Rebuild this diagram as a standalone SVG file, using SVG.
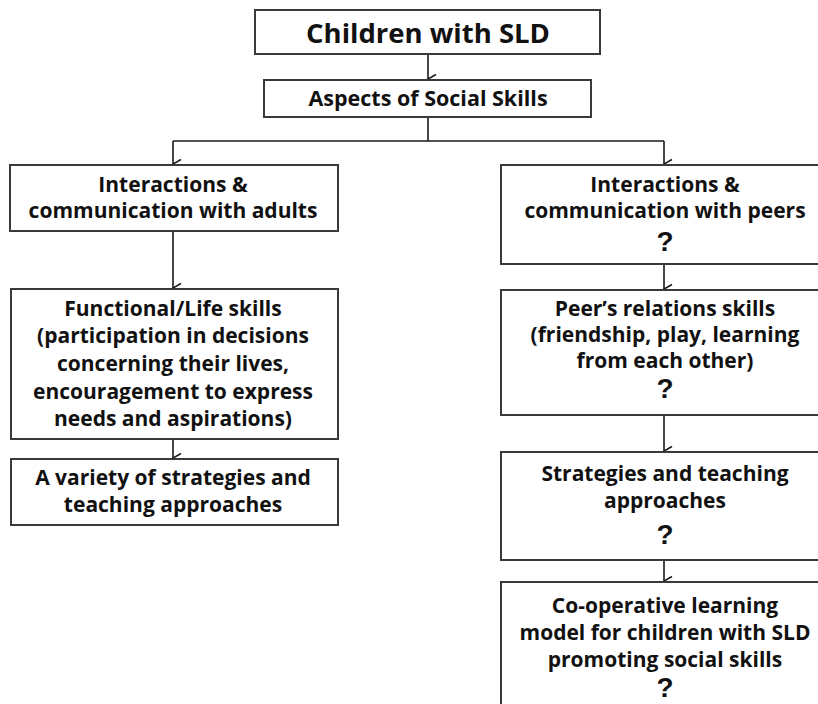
<svg xmlns="http://www.w3.org/2000/svg" width="818" height="704" viewBox="0 0 818 704">
  <defs>
    <marker id="arrow" viewBox="0 0 12 10" refX="6" refY="9" markerWidth="12" markerHeight="10" markerUnits="userSpaceOnUse" orient="auto-start-reverse">
      <polyline points="1.5,1 6,9 10.5,1" fill="none" stroke="#1a1a1a" stroke-width="1.6"/>
    </marker>
    <style>
      .box { fill: #ffffff; stroke: #3a3a3a; stroke-width: 2; }
      .txt { font-family: "Open Sans", Lato, "Liberation Sans", sans-serif; font-weight: bold; font-size: 21px; fill: #111111; text-anchor: middle; }
      .big { font-size: 27.5px; }
      .mid { font-size: 21.5px; }
      .q { font-family: "Liberation Sans", Arial, sans-serif; font-weight: bold; font-size: 28px; fill: #111111; text-anchor: middle; }
      .wire { fill: none; stroke: #1a1a1a; stroke-width: 1.6; }
    </style>
  </defs>
  <rect width="818" height="704" fill="#ffffff"/>

  <g id="connectors">
    <line class="wire" x1="428" y1="54" x2="428" y2="79" marker-end="url(#arrow)"/>
    <polyline class="wire" points="428,117 428,141"/>
    <polyline class="wire" points="173,141 664,141"/>
    <line class="wire" x1="173" y1="141" x2="173" y2="164" marker-end="url(#arrow)"/>
    <line class="wire" x1="664" y1="141" x2="664" y2="164" marker-end="url(#arrow)"/>
    <line class="wire" x1="173" y1="231" x2="173" y2="288" marker-end="url(#arrow)"/>
    <line class="wire" x1="173" y1="439" x2="173" y2="458" marker-end="url(#arrow)"/>
    <line class="wire" x1="664" y1="264" x2="664" y2="289" marker-end="url(#arrow)"/>
    <line class="wire" x1="664" y1="415" x2="664" y2="451" marker-end="url(#arrow)"/>
    <line class="wire" x1="664" y1="560" x2="664" y2="581" marker-end="url(#arrow)"/>
  </g>

  <g id="children-sld">
    <rect class="box" x="255" y="10" width="345" height="44"/>
    <text class="txt big" x="428" y="43">Children with SLD</text>
  </g>

  <g id="aspects">
    <rect class="box" x="264" y="80" width="327" height="37"/>
    <text class="txt mid" x="428" y="106">Aspects of Social Skills</text>
  </g>

  <g id="adults">
    <rect class="box" x="10" y="165" width="328" height="66"/>
    <text class="txt" x="173" y="192">Interactions &amp;</text>
    <text class="txt" x="173" y="218">communication with adults</text>
  </g>

  <g id="life-skills">
    <rect class="box" x="11" y="289" width="327" height="150"/>
    <text class="txt" x="173" y="316">Functional/Life skills</text>
    <text class="txt" x="173" y="343">(participation in decisions</text>
    <text class="txt" x="173" y="371">concerning their lives,</text>
    <text class="txt" x="173" y="399">encouragement to express</text>
    <text class="txt" x="173" y="426">needs and aspirations)</text>
  </g>

  <g id="variety">
    <rect class="box" x="11" y="459" width="327" height="66"/>
    <text class="txt" x="173" y="485">A variety of strategies and</text>
    <text class="txt" x="173" y="512">teaching approaches</text>
  </g>

  <g id="peers">
    <rect class="box" x="501" y="165" width="328" height="99"/>
    <text class="txt" x="665" y="192">Interactions &amp;</text>
    <text class="txt" x="665" y="218">communication with peers</text>
    <text class="q" x="665" y="251">?</text>
  </g>

  <g id="peer-relations">
    <rect class="box" x="501" y="290" width="328" height="125"/>
    <text class="txt" x="665" y="316">Peer’s relations skills</text>
    <text class="txt" x="665" y="342">(friendship, play, learning</text>
    <text class="txt" x="665" y="368">from each other)</text>
    <text class="q" x="665" y="398">?</text>
  </g>

  <g id="strategies">
    <rect class="box" x="501" y="452" width="328" height="108"/>
    <text class="txt" x="665" y="481">Strategies and teaching</text>
    <text class="txt" x="665" y="508">approaches</text>
    <text class="q" x="665" y="544">?</text>
  </g>

  <g id="cooperative">
    <rect class="box" x="501" y="582" width="328" height="140"/>
    <text class="txt" x="665" y="613">Co-operative learning</text>
    <text class="txt" x="665" y="640">model for children with SLD</text>
    <text class="txt" x="665" y="667">promoting social skills</text>
    <text class="q" x="665" y="697">?</text>
  </g>
</svg>
